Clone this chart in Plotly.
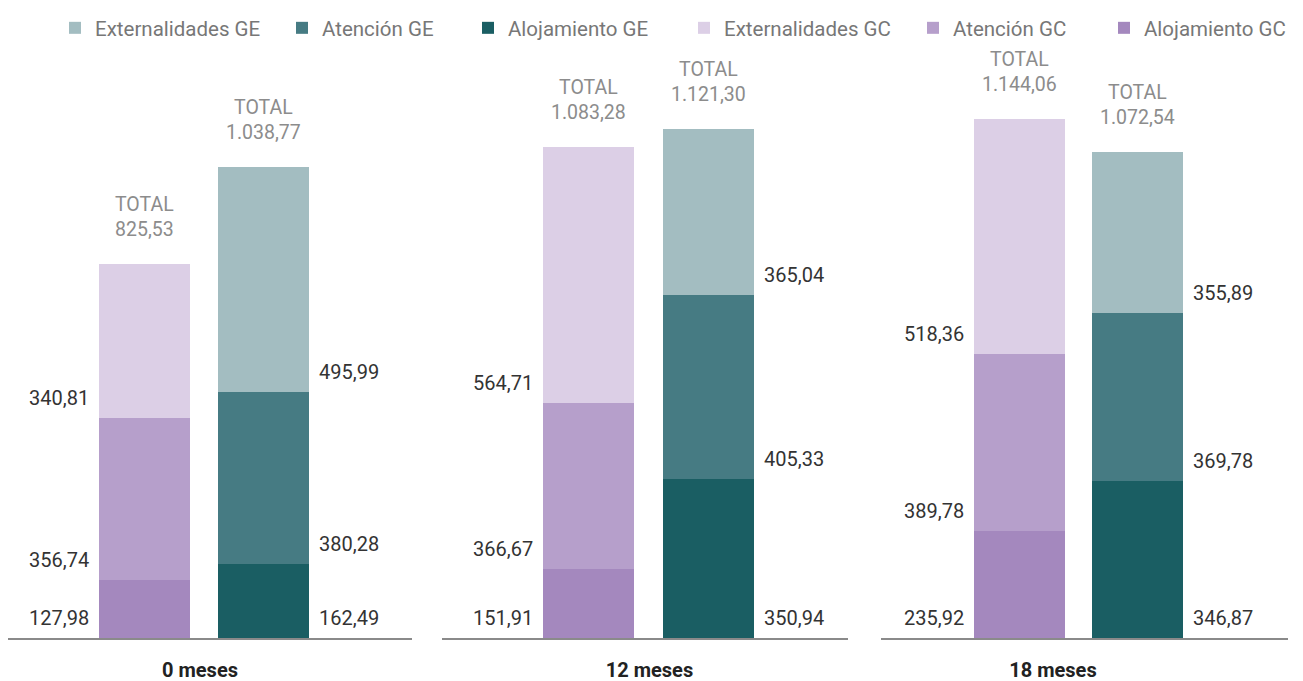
import plotly.graph_objects as go

categories = ["0 meses", "12 meses", "18 meses"]
gc_aloj = [127.98, 151.91, 235.92]
gc_aten = [356.74, 366.67, 389.78]
gc_ext = [340.81, 564.71, 518.36]
ge_aloj = [162.49, 350.94, 346.87]
ge_aten = [380.28, 405.33, 369.78]
ge_ext = [495.99, 365.04, 355.89]
gc_total = [825.53, 1083.28, 1144.06]
ge_total = [1038.77, 1121.30, 1072.54]

colors = {
    "Externalidades GE": "#a3bdc1",
    "Atención GE": "#467b83",
    "Alojamiento GE": "#1a5e63",
    "Externalidades GC": "#dccfe6",
    "Atención GC": "#b69fcb",
    "Alojamiento GC": "#a488be",
}
legend_w = {
    "Externalidades GE": 182,
    "Atención GE": 141,
    "Alojamiento GE": 171,
    "Externalidades GC": 184,
    "Atención GC": 146,
    "Alojamiento GC": 150,
}
rank = {n: i for i, n in enumerate(colors)}

def fmt(v):
    s = f"{v:,.2f}"
    return s.replace(",", "X").replace(".", ",").replace("X", ".")

OFF = 8  # page body margin
W, H = 1303 - OFF, 681 - OFF
MT, MB = 54, 43
PXU = 0.4535  # px per unit
plot_h = H - MT - MB
ymax = plot_h / PXU

# layout geometry per group (page pixels)
groups_px = [
    dict(L=6, R=412, c0=144.5, c1=263.5, tick=200),
    dict(L=442, R=848, c0=588.5, c1=708.5, tick=649.5),
    dict(L=881, R=1288, c0=1019.5, c1=1137.5, tick=1053),
]
BAR_W = 0.765

fig = go.Figure()
annotations = []
for g, cat in enumerate(categories):
    ax = "x" if g == 0 else f"x{g+1}"
    series = [
        ("Alojamiento GC", 0, gc_aloj[g]),
        ("Atención GC", 0, gc_aten[g]),
        ("Externalidades GC", 0, gc_ext[g]),
        ("Alojamiento GE", 1, ge_aloj[g]),
        ("Atención GE", 1, ge_aten[g]),
        ("Externalidades GE", 1, ge_ext[g]),
    ]
    base = {0: 0.0, 1: 0.0}
    for name, xpos, val in series:
        fig.add_trace(go.Bar(
            x=[xpos], y=[val], name=name, width=BAR_W,
            marker=dict(color=colors[name], line=dict(width=0)),
            xaxis=ax, yaxis="y", showlegend=(g == 0), legendgroup=name,
            legendrank=rank[name] + 1, legendwidth=legend_w[name],
            hovertemplate=f"{name}: {fmt(val)}<extra></extra>",
        ))
        if xpos == 0:
            annotations.append(dict(
                x=xpos - BAR_W / 2, y=base[xpos], xref=ax, yref="y",
                text=fmt(val), showarrow=False, xanchor="right", yanchor="middle",
                xshift=-8, yshift=20, font=dict(size=20, color="#333333")))
        else:
            annotations.append(dict(
                x=xpos + BAR_W / 2, y=base[xpos], xref=ax, yref="y",
                text=fmt(val), showarrow=False, xanchor="left", yanchor="middle",
                xshift=8, yshift=20, font=dict(size=20, color="#333333")))
        base[xpos] += val
    for xpos, tot in ((0, gc_total[g]), (1, ge_total[g])):
        annotations.append(dict(
            x=xpos, y=tot, xref=ax, yref="y",
            text=f"TOTAL<br>{fmt(tot)}", showarrow=False,
            xanchor="center", yanchor="bottom", yshift=21,
            font=dict(size=19.5, color="#8c8c8c")))

layout_axes = {}
for g, p in enumerate(groups_px):
    u = p["c1"] - p["c0"]
    L = max(p["L"] - OFF, 0)
    R = p["R"] - OFF
    c0, c1 = p["c0"] - OFF, p["c1"] - OFF
    rng = [-(c0 - L) / u, 1 + (R - c1) / u]
    tickx = (p["tick"] - p["c0"]) / u
    key = "xaxis" if g == 0 else f"xaxis{g+1}"
    layout_axes[key] = dict(
        domain=[L / W, R / W], range=rng, anchor="y",
        showgrid=False, zeroline=False, showline=True, linecolor="#8a8a8a",
        linewidth=1.5, ticks="", tickvals=[tickx], ticktext=[f"<b>{categories[g]}</b>"],
        tickfont=dict(size=20, color="#222222"), ticklabelstandoff=13,
        fixedrange=True, automargin=False,
    )

fig.update_layout(
    width=W, height=H,
    margin=dict(l=0, r=0, t=MT, b=MB, autoexpand=False),
    barmode="stack",
    plot_bgcolor="white", paper_bgcolor="white",
    font=dict(family="Roboto, sans-serif"),
    yaxis=dict(range=[0, ymax], visible=False, fixedrange=True),
    legend=dict(orientation="h", x=47 / W, xanchor="left",
                y=1 + MT / plot_h, yanchor="top",
                font=dict(size=20.5, color="#777777"),
                traceorder="normal"),
    annotations=annotations,
    **layout_axes,
)

fig.write_html("out.html")
